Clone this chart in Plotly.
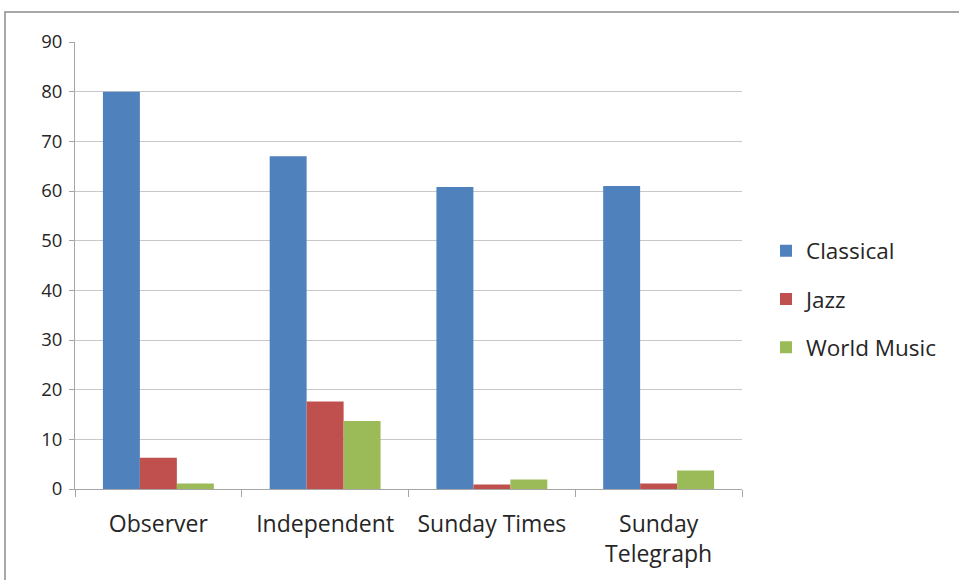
import plotly.graph_objects as go

categories = ["Observer", "Independent", "Sunday Times", "Sunday<br>Telegraph"]
classical = [80, 67, 60.8, 61]
jazz = [6.3, 17.6, 0.9, 1.1]
world = [1.1, 13.7, 1.9, 3.7]
series_names = ["Classical", "Jazz", "World Music"]
colors = ["#4F81BD", "#C0504D", "#9BBB59"]
y_ticks = [0, 10, 20, 30, 40, 50, 60, 70, 80, 90]

fig = go.Figure()
for i, (name, vals) in enumerate(zip(series_names, [classical, jazz, world])):
    fig.add_trace(go.Bar(x=categories, y=vals, name=name, marker_color=colors[i],
                         marker_line_width=0, legendgroup=name))

W, H = 959, 580
l, r, t, b = 75, 217, 42, 91
pw, ph = W - l - r, H - t - b

def px_x(px):
    return (px - l) / pw

def px_y(py):
    return (H - b - py) / ph

fig.update_layout(
    width=W, height=H,
    margin=dict(l=l, r=r, t=t, b=b),
    paper_bgcolor="white", plot_bgcolor="white",
    barmode="group", bargap=0.335, bargroupgap=0,
    font=dict(family="Open Sans, sans-serif", size=18, color="#262626"),
    legend=dict(x=px_x(766), y=px_y(299), xanchor="left", yanchor="middle",
                font=dict(size=22.5), tracegroupgap=16, itemwidth=30),
    xaxis=dict(showgrid=False, showline=True, linecolor="#A6A6A6", linewidth=1,
               ticks="outside", tickson="boundaries", ticklen=7, tickcolor="#A6A6A6",
               tickfont=dict(size=23), ticklabelstandoff=14),
    yaxis=dict(range=[0, 90], tickvals=y_ticks, showgrid=True, gridcolor="#C8C8C8",
               gridwidth=1, showline=True, linecolor="#A6A6A6", ticks="outside",
               ticklen=5, tickcolor="#A6A6A6", tickfont=dict(size=18.5), zeroline=False,
               ticklabelstandoff=3),
    shapes=[dict(type="rect", xref="paper", yref="paper",
                 x0=px_x(5), x1=px_x(1000), y0=px_y(620), y1=px_y(12),
                 line=dict(color="#8C8C8C", width=1.5), fillcolor="rgba(0,0,0,0)",
                 layer="below")],
)

fig.write_html("out.html")
